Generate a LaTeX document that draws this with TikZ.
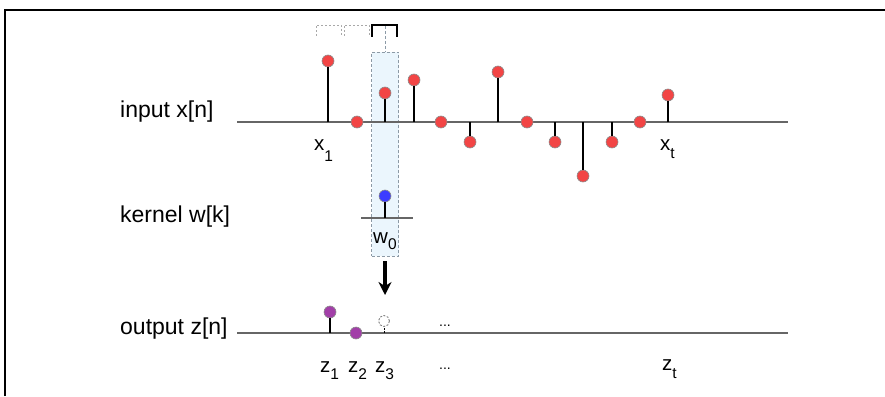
\documentclass[tikz,border=0pt]{standalone}
\usepackage{fontspec}
\setmainfont{Liberation Sans}
\usetikzlibrary{arrows.meta}
\definecolor{sred}{HTML}{F24545}
\definecolor{sblue}{HTML}{3C3CFF}
\definecolor{spurple}{HTML}{A23FA8}
\definecolor{axisgray}{HTML}{666666}
\definecolor{dotedge}{HTML}{8C8C8C}
\definecolor{boxfill}{HTML}{EBF6FD}
\definecolor{boxedge}{HTML}{8C9AA6}
\definecolor{ghost}{HTML}{A8A8A8}
\newcommand{\lsub}[2]{\raisebox{-#2}{\fontsize{15.5}{18}\selectfont #1}}
\begin{document}
\begin{tikzpicture}[x=1pt,y=-1pt,
  dot/.style={circle, draw=dotedge, line width=0.6pt, minimum size=12pt, inner sep=0pt},
  reddot/.style={dot, fill=sred},
  bluedot/.style={dot, fill=sblue},
  purpledot/.style={dot, fill=spurple},
  axisline/.style={draw=axisgray, line width=1.6pt},
  stemline/.style={draw=black, line width=1.2pt},
  biglabel/.style={anchor=base west, inner sep=0pt, font=\fontsize{23}{27}\selectfont},
  sublabel/.style={anchor=base west, inner sep=0pt, font=\fontsize{20.5}{24}\selectfont},
  ghostline/.style={draw=ghost, line width=0.8pt, dash pattern=on 2pt off 2pt},
  bracketline/.style={draw=black, line width=1.8pt},
  kernelbox/.style={draw=boxedge, fill=boxfill, line width=0.9pt, dash pattern=on 3pt off 2pt}
]
\useasboundingbox (0,0) rectangle (885,396);
% frame
\coordinate (ftl) at (5,10);
\coordinate (ftr) at (885,10);
\coordinate (fbl) at (5,396);
\draw[line width=1.8pt] (fbl) -- (ftl) -- (ftr);

% kernel window
\node[kernelbox, minimum width=27pt, minimum height=204pt, inner sep=0pt] (win) at (385,154) {};

% brackets
\coordinate (g1a) at (316,36); \coordinate (g1b) at (316,25);
\coordinate (g1c) at (341,25); \coordinate (g1d) at (341,36);
\draw[ghostline] (g1a) -- (g1b) -- (g1c) -- (g1d);
\coordinate (g2a) at (344,36); \coordinate (g2b) at (344,25);
\coordinate (g2c) at (369,25); \coordinate (g2d) at (369,36);
\draw[ghostline] (g2a) -- (g2b) -- (g2c) -- (g2d);
\coordinate (bra) at (372,37); \coordinate (brb) at (372,25);
\coordinate (brc) at (397,25); \coordinate (brd) at (397,37);
\draw[bracketline] (bra) -- (brb) -- (brc) -- (brd);
\coordinate (brm) at (385,26);
\draw[draw=boxedge, line width=0.8pt, dash pattern=on 3pt off 2pt] (brm) -- (win.north);

% axes
\coordinate (inL) at (237,122); \coordinate (inR) at (788,122);
\draw[axisline] (inL) -- (inR);
\coordinate (kL) at (361,218); \coordinate (kR) at (413,218);
\draw[axisline] (kL) -- (kR);
\coordinate (outL) at (237,333); \coordinate (outR) at (788,333);
\draw[axisline] (outL) -- (outR);

% left labels
\node[biglabel] (linput) at (120,117) {input x[n]};
\node[biglabel] (lkernel) at (120,222) {kernel w[k]};
\node[biglabel] (loutput) at (120,334) {output z[n]};

% input samples
\foreach \px/\py [count=\i] in {328/61,357/122,385/93,414/80,441/122,470/142,498/72,527/122,555/142,583/176,612/142,640/122,668/95}{
  \coordinate (ia\i) at (\px,122);
  \node[reddot] (is\i) at (\px,\py) {};
  \ifnum\py=122\relax\else
    \ifnum\i=1\relax
      \draw[stemline, line width=2.2pt] (ia\i) -- (is\i);
    \else
      \draw[stemline] (ia\i) -- (is\i);
    \fi
  \fi
}
\node[sublabel] (lx1) at (314,150) {x\lsub{1}{11pt}};
\node[sublabel] (lxt) at (660,150) {x\lsub{t}{8pt}};

% kernel sample
\coordinate (ka) at (385,218);
\node[bluedot] (ks) at (385,196) {};
\draw[stemline] (ka) -- (ks);
\node[sublabel] (lw0) at (373,243) {w\lsub{0}{6pt}};

% arrow
\coordinate (arA) at (385,261);
\coordinate (arB) at (385,295);
\draw[line width=3.4pt, -{Stealth[length=13pt,width=13pt]}] (arA) -- (arB);

% output samples
\coordinate (oa1) at (330,333);
\node[purpledot] (os1) at (330,312) {};
\draw[stemline] (oa1) -- (os1);
\node[purpledot] (os2) at (356,333) {};
\coordinate (oa3) at (384,333);
\node[circle, draw=gray, line width=0.9pt, dash pattern=on 2pt off 1.5pt, minimum size=11pt, inner sep=0pt] (os3) at (384,321) {};
\draw[draw=black, line width=0.9pt, dash pattern=on 2pt off 1.5pt] (oa3) -- (os3);
\node[anchor=base, inner sep=0pt, font=\fontsize{14}{16}\selectfont] (dots1) at (445,326) {...};

\node[sublabel] (lz1) at (320,372) {z\lsub{1}{7pt}};
\node[sublabel] (lz2) at (348,372) {z\lsub{2}{7pt}};
\node[sublabel] (lz3) at (375,372) {z\lsub{3}{7pt}};
\node[anchor=base, inner sep=0pt, font=\fontsize{14}{16}\selectfont] (dots2) at (445,369) {...};
\node[sublabel] (lzt) at (662,370) {z\lsub{t}{8pt}};
\end{tikzpicture}
\end{document}
